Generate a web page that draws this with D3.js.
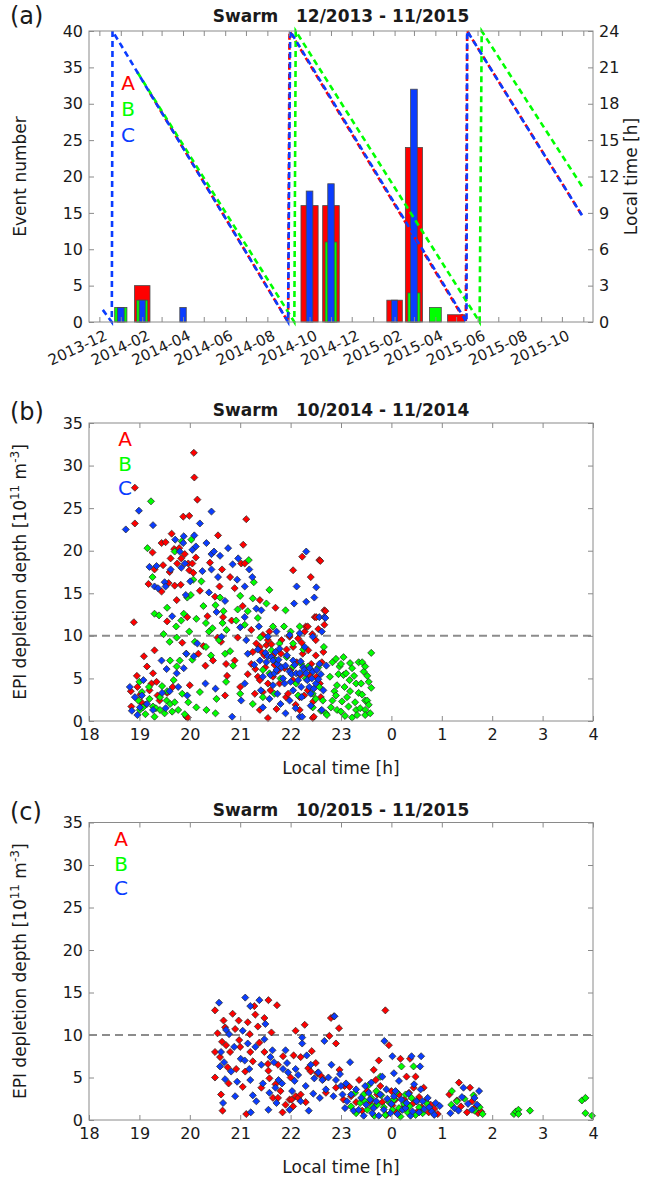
<!DOCTYPE html>
<html>
<head>
<meta charset="utf-8">
<script src="https://cdn.jsdelivr.net/npm/d3@7"></script>
<style>
  body { margin: 0; background: #fff; }
  svg text { font-family: 'DejaVu Sans', sans-serif; fill: #1a1a1a; }
</style>
</head>
<body>
<svg id="fig" width="652" height="1177"></svg>
<script>
// ---------- panel (a): monthly event counts ----------
const months = ['2014-01', '2014-02', '2014-04', '2014-10', '2014-11', '2015-02', '2015-03', '2015-04', '2015-05'];
const countA = [0, 5, 0, 16, 16, 3, 24, 0, 1];
const countB = [2, 3, 0, 0, 11, 0, 4, 2, 0];
const countC = [2, 3, 2, 18, 19, 3, 32, 0, 0];

// local time of the orbit for each satellite [date, LT hours]
const ltA = [['2014-02-12', 18.9], ['2014-08-31', 0], ['2014-09-02', 24], ['2015-05-15', 0], ['2015-05-17', 24], ['2015-10-30', 8.8]];
const ltB = [['2014-01-25', 20.6], ['2014-09-09', 0], ['2014-09-11', 24], ['2015-06-04', 0], ['2015-06-07', 24], ['2015-10-30', 11.2]];
const ltC = [['2013-12-06', 1.0], ['2013-12-19', 0], ['2013-12-20', 24], ['2014-08-31', 0], ['2014-09-03', 24], ['2015-05-16', 0], ['2015-05-17', 24], ['2015-10-30', 8.8]];

// ---------- panel (b): 10/2014 - 11/2014, [LT h, depth] ----------
const bA = [[18.83,3.5],[18.84,1.7],[18.89,11.6],[18.91,23.2],[18.91,27.4],[18.95,5.3],[18.96,4.0],[19.02,3.1],[19.04,2.2],[19.09,7.6],[19.12,1.9],[19.15,6.4],[19.18,16.1],[19.2,3.6],[19.24,4.4],[19.26,19.8],[19.27,5.6],[19.3,8.3],[19.3,17.8],[19.34,4.6],[19.36,3.0],[19.4,2.4],[19.44,20.9],[19.44,15.2],[19.47,18.3],[19.52,21.0],[19.55,3.3],[19.55,11.7],[19.58,16.2],[19.6,17.5],[19.62,19.1],[19.64,22.0],[19.66,4.0],[19.69,20.2],[19.7,15.9],[19.74,14.2],[19.75,18.5],[19.79,20.3],[19.82,16.0],[19.83,19.1],[19.85,9.2],[19.87,24.0],[19.9,19.6],[19.93,0.5],[19.95,12.2],[19.96,0.4],[19.97,18.5],[19.99,24.1],[19.99,17.7],[20.0,4.2],[20.05,18.5],[20.07,17.4],[20.08,31.5],[20.09,28.6],[20.12,19.2],[20.15,26.0],[20.17,7.9],[20.2,15.3],[20.27,8.8],[20.31,6.5],[20.35,12.3],[20.4,18.6],[20.46,7.1],[20.5,14.6],[20.55,9.8],[20.56,21.8],[20.59,15.8],[20.62,9.3],[20.64,17.8],[20.66,12.2],[20.7,3.0],[20.72,6.7],[20.74,5.3],[20.8,16.9],[20.83,11.8],[20.89,15.6],[20.89,7.1],[20.95,9.8],[21.0,4.0],[21.02,18.5],[21.05,13.5],[21.06,20.7],[21.09,18.5],[21.12,23.7],[21.15,5.5],[21.22,10.7],[21.22,6.7],[21.25,8.1],[21.29,3.2],[21.3,6.1],[21.32,9.1],[21.35,5.2],[21.39,14.2],[21.39,8.7],[21.39,4.8],[21.39,1.3],[21.43,8.1],[21.45,10.1],[21.45,3.4],[21.48,7.7],[21.5,6.3],[21.52,8.9],[21.55,0.35],[21.55,9.5],[21.55,4.4],[21.58,10.5],[21.6,3.6],[21.62,9.0],[21.65,7.7],[21.65,5.2],[21.68,6.6],[21.7,13.3],[21.72,1.4],[21.75,5.9],[21.78,4.4],[21.81,7.9],[21.82,9.5],[21.88,6.2],[21.91,2.8],[21.92,8.4],[21.95,3.2],[21.98,9.9],[22.0,6.0],[22.05,17.7],[22.05,8.7],[22.05,4.8],[22.1,1.9],[22.12,6.9],[22.15,9.7],[22.18,2.8],[22.18,1.3],[22.2,5.4],[22.22,9.2],[22.23,19.3],[22.24,7.9],[22.27,3.0],[22.28,10.5],[22.3,11.1],[22.34,11.1],[22.34,3.6],[22.35,8.3],[22.38,5.4],[22.4,16.9],[22.41,6.7],[22.43,10.2],[22.44,0.35],[22.45,2.3],[22.46,0.5],[22.48,12.2],[22.5,9.5],[22.5,7.7],[22.51,12.2],[22.51,5.2],[22.55,10.8],[22.57,18.9],[22.58,4.4],[22.59,18.8],[22.6,2.8],[22.62,6.9],[22.65,8.1],[22.67,13.0],[22.67,11.3],[22.69,12.9]];
const bB = [[18.98,2.4],[19.0,4.6],[19.01,1.3],[19.05,3.4],[19.07,1.6],[19.12,0.8],[19.16,20.3],[19.19,4.0],[19.2,2.6],[19.23,25.8],[19.26,16.9],[19.27,1.7],[19.3,12.6],[19.3,0.5],[19.33,1.5],[19.39,12.4],[19.41,1.3],[19.41,2.8],[19.45,4.1],[19.48,10.2],[19.5,0.9],[19.54,2.4],[19.55,3.5],[19.55,13.3],[19.6,9.3],[19.61,2.0],[19.61,7.1],[19.65,1.1],[19.68,4.8],[19.7,19.9],[19.7,2.2],[19.73,11.1],[19.74,9.8],[19.74,6.4],[19.77,1.3],[19.8,7.1],[19.83,11.8],[19.84,21.1],[19.85,3.2],[19.88,12.6],[19.9,0.8],[19.93,7.9],[19.95,14.5],[19.97,2.2],[19.99,10.5],[20.02,14.8],[20.03,21.3],[20.05,7.2],[20.07,16.6],[20.1,9.3],[20.13,12.0],[20.13,1.6],[20.2,3.4],[20.23,16.4],[20.27,13.5],[20.32,11.5],[20.32,8.7],[20.33,1.3],[20.38,10.5],[20.42,7.7],[20.45,10.9],[20.51,13.6],[20.51,0.9],[20.53,2.6],[20.58,9.5],[20.6,14.5],[20.65,11.5],[20.67,12.9],[20.7,7.9],[20.72,4.6],[20.73,10.7],[20.8,8.2],[20.86,6.5],[20.92,11.8],[20.95,13.1],[21.0,14.7],[21.0,3.2],[21.09,11.3],[21.15,12.9],[21.17,18.9],[21.25,14.4],[21.25,2.0],[21.27,16.3],[21.35,12.1],[21.4,9.8],[21.45,6.0],[21.45,2.8],[21.52,13.8],[21.58,15.4],[21.58,5.6],[21.62,8.3],[21.65,11.1],[21.68,3.2],[21.71,7.1],[21.78,9.1],[21.8,5.0],[21.87,11.1],[21.9,13.0],[21.92,7.5],[22.0,10.5],[22.05,9.1],[22.05,6.4],[22.11,4.4],[22.15,3.0],[22.18,11.1],[22.21,6.7],[22.25,8.4],[22.3,5.0],[22.35,6.4],[22.44,3.2],[22.44,1.6],[22.5,2.6],[22.55,6.3],[22.57,4.0],[22.6,1.2],[22.64,2.4],[22.66,8.7],[22.7,0.9],[22.72,0.7],[22.78,5.2],[22.8,1.6],[22.83,6.9],[22.83,2.4],[22.87,3.5],[22.9,3.0],[22.9,7.3],[22.92,4.2],[22.92,1.3],[22.95,5.5],[22.97,6.4],[23.0,6.7],[23.0,1.1],[23.02,2.3],[23.05,5.4],[23.05,7.5],[23.07,4.0],[23.08,0.6],[23.1,5.6],[23.12,2.8],[23.15,1.7],[23.17,4.8],[23.18,6.8],[23.18,3.5],[23.22,0.4],[23.22,6.2],[23.26,5.3],[23.28,2.2],[23.3,4.4],[23.3,1.3],[23.32,0.7],[23.35,6.9],[23.35,3.3],[23.38,1.5],[23.4,4.4],[23.42,3.1],[23.42,6.9],[23.45,5.8],[23.48,6.4],[23.48,2.4],[23.48,1.3],[23.48,0.7],[23.52,5.3],[23.52,2.4],[23.55,1.9],[23.55,4.6],[23.58,0.9],[23.6,8.0],[23.6,3.9]];
const bC = [[18.73,22.5],[18.81,4.0],[18.85,1.2],[18.91,2.8],[18.96,0.7],[18.99,24.7],[19.01,1.6],[19.05,3.0],[19.08,4.8],[19.15,2.0],[19.2,18.1],[19.27,23.0],[19.27,1.3],[19.3,15.8],[19.34,18.2],[19.37,15.6],[19.44,7.1],[19.45,3.3],[19.5,16.3],[19.52,15.8],[19.52,1.5],[19.54,6.1],[19.6,3.5],[19.62,17.8],[19.65,12.3],[19.71,21.3],[19.74,5.6],[19.77,4.0],[19.8,19.9],[19.83,18.0],[19.87,20.9],[19.88,21.7],[19.88,6.2],[19.9,18.5],[19.92,14.8],[19.93,7.9],[19.95,3.0],[20.01,16.4],[20.05,20.1],[20.08,7.6],[20.09,21.8],[20.12,20.5],[20.15,9.1],[20.2,23.2],[20.25,17.6],[20.31,4.4],[20.33,20.9],[20.38,15.1],[20.43,24.6],[20.43,19.6],[20.43,17.8],[20.48,19.9],[20.51,3.8],[20.53,12.8],[20.56,16.9],[20.6,19.4],[20.63,9.9],[20.7,14.1],[20.76,20.3],[20.84,0.5],[20.85,18.4],[20.94,16.6],[20.96,19.1],[21.0,11.0],[21.02,2.4],[21.09,15.8],[21.09,12.2],[21.09,4.4],[21.12,9.5],[21.15,7.9],[21.18,17.8],[21.24,16.9],[21.28,6.6],[21.32,13.2],[21.35,8.4],[21.37,11.1],[21.39,7.1],[21.41,3.6],[21.42,13.0],[21.45,5.2],[21.45,1.6],[21.5,8.0],[21.52,6.9],[21.55,9.9],[21.55,7.6],[21.58,2.6],[21.6,5.4],[21.62,7.5],[21.65,7.1],[21.65,4.2],[21.68,5.6],[21.7,8.1],[21.72,10.5],[21.72,6.0],[21.74,6.7],[21.74,3.2],[21.76,7.2],[21.78,8.5],[21.8,2.0],[21.82,6.3],[21.85,5.0],[21.88,4.4],[21.9,6.5],[21.9,0.9],[21.93,7.7],[21.98,10.1],[21.98,5.8],[21.98,2.4],[22.0,4.6],[22.02,5.5],[22.05,7.1],[22.05,3.6],[22.07,13.8],[22.08,6.6],[22.1,1.5],[22.11,5.6],[22.12,15.8],[22.15,4.8],[22.18,10.3],[22.18,5.6],[22.18,0.5],[22.2,7.0],[22.21,4.0],[22.22,2.8],[22.23,0.5],[22.25,6.3],[22.27,6.0],[22.28,8.7],[22.31,19.9],[22.31,14.0],[22.31,5.6],[22.33,4.8],[22.37,4.0],[22.38,6.2],[22.4,3.2],[22.4,1.8],[22.42,5.0],[22.44,9.9],[22.44,5.8],[22.46,3.8],[22.47,14.5],[22.5,4.4],[22.51,15.7],[22.52,6.0],[22.55,4.9],[22.57,12.2],[22.57,6.7],[22.6,5.5],[22.62,10.5],[22.62,1.3],[22.65,3.6],[22.67,12.2],[22.69,12.1],[22.71,6.5]];

// ---------- panel (c): 10/2015 - 11/2015, [LT h, depth] ----------
const cA = [[20.5,12.9],[20.5,8.0],[20.5,5.0],[20.55,10.2],[20.6,7.4],[20.62,3.0],[20.64,9.2],[20.65,1.1],[20.67,11.7],[20.7,10.9],[20.72,8.8],[20.75,6.2],[20.77,4.3],[20.8,8.0],[20.85,12.5],[20.9,10.7],[20.92,6.0],[20.97,11.7],[20.98,9.4],[21.0,8.6],[21.05,3.9],[21.1,5.7],[21.12,0.7],[21.15,11.5],[21.19,10.1],[21.2,8.0],[21.25,6.9],[21.28,13.4],[21.3,12.4],[21.35,11.0],[21.38,9.1],[21.42,3.8],[21.48,12.0],[21.48,8.0],[21.55,6.6],[21.56,14.1],[21.56,5.8],[21.58,4.9],[21.62,10.3],[21.65,2.6],[21.7,4.2],[21.73,13.5],[21.75,6.5],[21.75,2.6],[21.8,3.4],[21.84,0.9],[21.85,7.5],[21.9,1.8],[21.98,2.4],[22.0,5.0],[22.02,2.4],[22.05,1.6],[22.06,7.6],[22.1,10.5],[22.1,2.8],[22.15,2.6],[22.2,3.0],[22.2,7.4],[22.28,11.2],[22.3,2.1],[22.35,6.1],[22.4,5.7],[22.42,8.1],[22.5,6.7],[22.53,5.5],[22.6,5.2],[22.65,4.8],[22.7,3.2],[22.77,9.9],[22.8,12.0],[22.86,12.2],[22.9,9.0],[22.9,3.8],[22.96,10.8],[22.97,5.9],[23.05,2.4],[23.07,4.0],[23.17,3.9],[23.2,2.8],[23.3,2.1],[23.36,4.7],[23.42,1.1],[23.52,3.4],[23.58,2.2],[23.65,5.9],[23.68,1.7],[23.69,4.7],[23.72,3.0],[23.75,7.0],[23.78,4.0],[23.82,2.1],[23.88,12.9],[23.9,0.6],[23.95,8.8],[0.0,3.4],[0.02,1.7],[0.08,2.4],[0.1,0.9],[0.15,3.0],[0.18,7.2],[0.2,1.3],[0.26,2.4],[0.3,5.1],[0.35,3.2],[0.37,7.2],[0.44,3.8],[0.44,2.0],[0.48,5.1],[0.52,1.0],[0.55,2.7],[0.6,1.5],[0.64,3.8],[0.68,2.2],[0.74,0.9],[0.78,1.8],[0.85,1.3],[0.92,0.7],[1.15,3.0],[1.3,2.3],[1.34,4.4],[1.38,1.6],[1.5,0.9],[1.56,3.8],[1.6,2.2],[1.68,1.6],[1.72,0.8],[1.78,1.0]];
const cB = [[23.2,1.6],[23.28,3.2],[23.3,0.8],[23.38,2.0],[23.45,3.0],[23.48,2.2],[23.52,1.2],[23.55,4.1],[23.6,2.6],[23.62,1.6],[23.66,0.5],[23.7,3.4],[23.72,1.8],[23.78,5.1],[23.8,2.9],[23.85,1.5],[23.88,0.6],[23.95,2.1],[0.02,1.2],[0.05,2.4],[0.1,3.3],[0.15,1.4],[0.18,0.4],[0.2,6.3],[0.25,1.9],[0.28,3.0],[0.32,0.9],[0.36,1.6],[0.4,2.6],[0.44,6.3],[0.48,0.6],[0.5,2.2],[0.55,1.5],[0.62,0.8],[0.7,2.0],[1.19,1.8],[1.2,3.4],[1.3,2.2],[1.45,2.5],[1.63,2.9],[1.65,1.1],[1.75,1.5],[1.81,0.7],[2.43,0.7],[2.47,1.0],[2.52,1.2],[2.52,0.7],[2.75,1.1],[3.78,2.3],[3.85,2.6],[3.85,0.8],[3.98,0.5]];
const cC = [[20.58,13.8],[20.6,6.3],[20.62,8.0],[20.66,2.0],[20.68,6.8],[20.7,4.8],[20.72,10.6],[20.78,10.1],[20.82,5.7],[20.88,8.6],[20.9,2.8],[20.94,4.5],[21.01,7.2],[21.05,10.5],[21.09,7.0],[21.1,14.4],[21.15,9.0],[21.18,6.0],[21.2,13.4],[21.2,4.7],[21.21,0.9],[21.25,2.9],[21.3,8.6],[21.32,2.2],[21.38,14.1],[21.42,6.5],[21.45,4.3],[21.48,9.5],[21.5,11.3],[21.56,1.2],[21.58,3.2],[21.6,7.4],[21.64,8.2],[21.67,6.8],[21.7,3.8],[21.72,2.0],[21.76,4.7],[21.83,4.3],[21.85,6.0],[21.9,8.2],[21.93,6.7],[21.95,5.6],[21.98,1.2],[22.03,3.4],[22.08,4.6],[22.1,6.0],[22.15,5.3],[22.2,2.2],[22.23,9.0],[22.23,9.7],[22.3,4.0],[22.32,7.6],[22.36,1.1],[22.4,6.5],[22.45,3.1],[22.47,4.9],[22.55,5.6],[22.58,2.6],[22.63,4.7],[22.67,9.3],[22.7,3.6],[22.75,5.0],[22.81,6.5],[22.85,2.8],[22.87,12.2],[22.9,4.7],[22.98,5.4],[23.0,4.0],[23.03,3.0],[23.08,1.4],[23.1,4.3],[23.12,2.2],[23.18,6.8],[23.2,3.0],[23.25,1.1],[23.3,3.6],[23.35,1.2],[23.4,2.6],[23.45,0.5],[23.48,4.0],[23.5,1.8],[23.55,3.2],[23.58,2.4],[23.6,4.4],[23.62,0.8],[23.65,1.4],[23.7,2.2],[23.75,0.5],[23.78,3.0],[23.82,5.1],[23.85,1.2],[23.86,9.3],[23.9,3.6],[23.92,2.5],[23.98,0.8],[0.0,1.9],[0.02,7.5],[0.05,5.5],[0.05,2.8],[0.08,3.4],[0.12,0.7],[0.15,4.6],[0.2,2.4],[0.22,1.2],[0.28,1.4],[0.3,2.0],[0.34,3.1],[0.38,0.5],[0.4,7.5],[0.42,1.0],[0.45,4.2],[0.5,2.2],[0.55,0.9],[0.57,6.3],[0.58,3.6],[0.59,7.5],[0.62,2.2],[0.65,1.3],[0.72,2.6],[0.75,1.5],[0.8,1.0],[0.85,0.6],[0.88,2.0],[0.96,1.65],[1.17,0.8],[1.25,1.4],[1.33,1.1],[1.4,2.7],[1.43,3.8],[1.52,1.9],[1.6,1.2],[1.65,2.6],[1.7,1.8],[1.74,3.4]];

const yTicksA = d3.range(0, 41, 5);
const yTicksLT = d3.range(0, 25, 3);
const ltTicks = [18, 19, 20, 21, 22, 23, 24, 25, 26, 27, 28];
const depthTicks = d3.range(0, 36, 5);

const red = '#ff0000', green = '#00ff00', blue = '#0a3cff';
const axisCol = '#8a8a8a';
const L = 89, R = 593;
const parse = d3.utcParse('%Y-%m-%d');
const parseMonth = d3.utcParse('%Y-%m');

const svg = d3.select('#fig');

function styleAxis(g) {
  g.attr('font-family', 'DejaVu Sans').attr('font-size', 16);
  g.select('.domain').remove();
  g.selectAll('.tick line').attr('stroke', axisCol);
  g.selectAll('.tick text').attr('fill', '#1a1a1a');
}

function box(g, top, bottom) {
  g.append('rect')
    .attr('x', L).attr('y', top)
    .attr('width', R - L).attr('height', bottom - top)
    .attr('fill', 'none').attr('stroke', axisCol).attr('stroke-width', 1);
}

// =============== panel (a) ===============
const topA = 31, botA = 322;
const xa = d3.scaleUtc().domain([parse('2013-11-16'), parse('2015-11-15')]).range([L, R]);
const ya = d3.scaleLinear().domain([0, 40]).range([botA, topA]);
const ylt = d3.scaleLinear().domain([0, 24]).range([botA, topA]);
const pa = svg.append('g');

const barSpec = [
  { counts: countA, color: red, frac: 0.8 },
  { counts: countB, color: green, frac: 0.57 },
  { counts: countC, color: blue, frac: 0.31 },
];
barSpec.forEach((s) => {
  months.forEach((m, i) => {
    if (!s.counts[i]) return;
    const d0 = parseMonth(m);
    const mw = xa(d3.utcMonth.offset(d0, 1)) - xa(d0);
    const w = mw * s.frac;
    pa.append('rect')
      .attr('x', xa(d0) - w / 2)
      .attr('y', ya(s.counts[i]))
      .attr('width', w)
      .attr('height', ya(0) - ya(s.counts[i]))
      .attr('fill', s.color)
      .attr('stroke', '#4a4a4a')
      .attr('stroke-width', 0.8);
  });
});

const ltLine = d3.line().x((d) => xa(parse(d[0]))).y((d) => ylt(d[1]));
[[ltA, red], [ltB, green], [ltC, blue]].forEach(([data, color]) => {
  pa.append('path')
    .attr('d', ltLine(data))
    .attr('fill', 'none')
    .attr('stroke', color)
    .attr('stroke-width', 2.6)
    .attr('stroke-dasharray', '6,4');
});

const monthTicks = d3.utcMonth.range(parse('2013-12-01'), parse('2015-11-02'));
pa.append('g').attr('transform', `translate(0,${botA})`)
  .call(d3.axisBottom(xa).tickValues(monthTicks).tickSize(-5).tickFormat(''))
  .call(styleAxis);
pa.append('g').attr('transform', `translate(0,${topA})`)
  .call(d3.axisTop(xa).tickValues(monthTicks).tickSize(-5).tickFormat(''))
  .call(styleAxis);
pa.append('g').attr('transform', `translate(${L},0)`)
  .call(d3.axisLeft(ya).tickValues(yTicksA).tickSize(-5).tickPadding(6))
  .call(styleAxis);
pa.append('g').attr('transform', `translate(${R},0)`)
  .call(d3.axisRight(ylt).tickValues(yTicksLT).tickSize(-5).tickPadding(6))
  .call(styleAxis);
box(pa, topA, botA);

const fmtMonth = d3.utcFormat('%Y-%m');
monthTicks.filter((d, i) => i % 2 === 0).forEach((d) => {
  pa.append('text')
    .attr('transform', `translate(${xa(d) + 4},${botA + 7}) rotate(-25)`)
    .attr('text-anchor', 'end')
    .attr('dy', '0.75em')
    .attr('font-size', 15)
    .text(fmtMonth(d));
});

pa.append('text').attr('x', 10).attr('y', 24).attr('font-size', 24).text('(a)');
pa.append('text').attr('x', (L + R) / 2).attr('y', 22).attr('text-anchor', 'middle')
  .attr('font-size', 17).attr('font-weight', 'bold').style('white-space', 'pre')
  .text('Swarm   12/2013 - 11/2015');
pa.append('text').attr('transform', `translate(26,${(topA + botA) / 2}) rotate(-90)`)
  .attr('text-anchor', 'middle').attr('font-size', 17).text('Event number');
pa.append('text').attr('transform', `translate(637,${(topA + botA) / 2}) rotate(-90)`)
  .attr('text-anchor', 'middle').attr('font-size', 17).text('Local time [h]');
[['A', red, 90], ['B', green, 116], ['C', blue, 142]].forEach(([t, c, y]) => {
  pa.append('text').attr('x', 128).attr('y', y).attr('text-anchor', 'middle')
    .attr('font-size', 20).style('fill', c).text(t);
});

// =============== panels (b) and (c) ===============
const ltx = (h) => (h < 12 ? h + 24 : h);
const diamond = d3.symbol(d3.symbolSquare, 25);

function scatterPanel(opts) {
  const { top, bottom, tag, title, series, letterX } = opts;
  const g = svg.append('g');
  const x = d3.scaleLinear().domain([18, 28]).range([L, R]);
  const y = d3.scaleLinear().domain([0, 35]).range([bottom, top]);

  g.append('line')
    .attr('x1', L).attr('x2', R).attr('y1', y(10)).attr('y2', y(10))
    .attr('stroke', '#8c8c8c').attr('stroke-width', 2).attr('stroke-dasharray', '8,5');

  series.forEach(([data, color]) => {
    g.append('g').selectAll('path').data(data).join('path')
      .attr('d', diamond)
      .attr('transform', (d) => `translate(${x(ltx(d[0]))},${y(d[1])}) rotate(45)`)
      .attr('fill', color)
      .attr('stroke', '#2a2a2a')
      .attr('stroke-width', 0.7);
  });

  g.append('g').attr('transform', `translate(0,${bottom})`)
    .call(d3.axisBottom(x).tickValues(ltTicks).tickSize(-5).tickPadding(8).tickFormat((d) => d % 24))
    .call(styleAxis);
  g.append('g').attr('transform', `translate(0,${top})`)
    .call(d3.axisTop(x).tickValues(ltTicks).tickSize(-5).tickFormat(''))
    .call(styleAxis);
  g.append('g').attr('transform', `translate(${L},0)`)
    .call(d3.axisLeft(y).tickValues(depthTicks).tickSize(-5).tickPadding(6))
    .call(styleAxis);
  g.append('g').attr('transform', `translate(${R},0)`)
    .call(d3.axisRight(y).tickValues(depthTicks).tickSize(-5).tickFormat(''))
    .call(styleAxis);
  box(g, top, bottom);

  g.append('text').attr('x', 10).attr('y', top - 3).attr('font-size', 24).text(tag);
  g.append('text').attr('x', (L + R) / 2).attr('y', top - 7).attr('text-anchor', 'middle')
    .attr('font-size', 17).attr('font-weight', 'bold').style('white-space', 'pre')
    .text(title);
  g.append('text').attr('x', (L + R) / 2).attr('y', bottom + 53).attr('text-anchor', 'middle')
    .attr('font-size', 17).text('Local time [h]');

  const yl = g.append('text')
    .attr('transform', `translate(26,${(top + bottom) / 2}) rotate(-90)`)
    .attr('text-anchor', 'middle').attr('font-size', 17);
  yl.append('tspan').text('EPI depletion depth [10');
  yl.append('tspan').attr('dy', -7).attr('font-size', 12).text('11');
  yl.append('tspan').attr('dy', 7).text(' m');
  yl.append('tspan').attr('dy', -7).attr('font-size', 12).text('-3');
  yl.append('tspan').attr('dy', 7).text(']');

  [['A', red, 23], ['B', green, 48], ['C', blue, 72]].forEach(([t, c, dy]) => {
    g.append('text').attr('x', letterX).attr('y', top + dy).attr('text-anchor', 'middle')
      .attr('font-size', 20).style('fill', c).text(t);
  });
}

scatterPanel({
  top: 423, bottom: 721, tag: '(b)', title: 'Swarm   10/2014 - 11/2014',
  series: [[bA, red], [bB, green], [bC, blue]], letterX: 125,
});
scatterPanel({
  top: 822.5, bottom: 1120, tag: '(c)', title: 'Swarm   10/2015 - 11/2015',
  series: [[cA, red], [cB, green], [cC, blue]], letterX: 121,
});
</script>
</body>
</html>
